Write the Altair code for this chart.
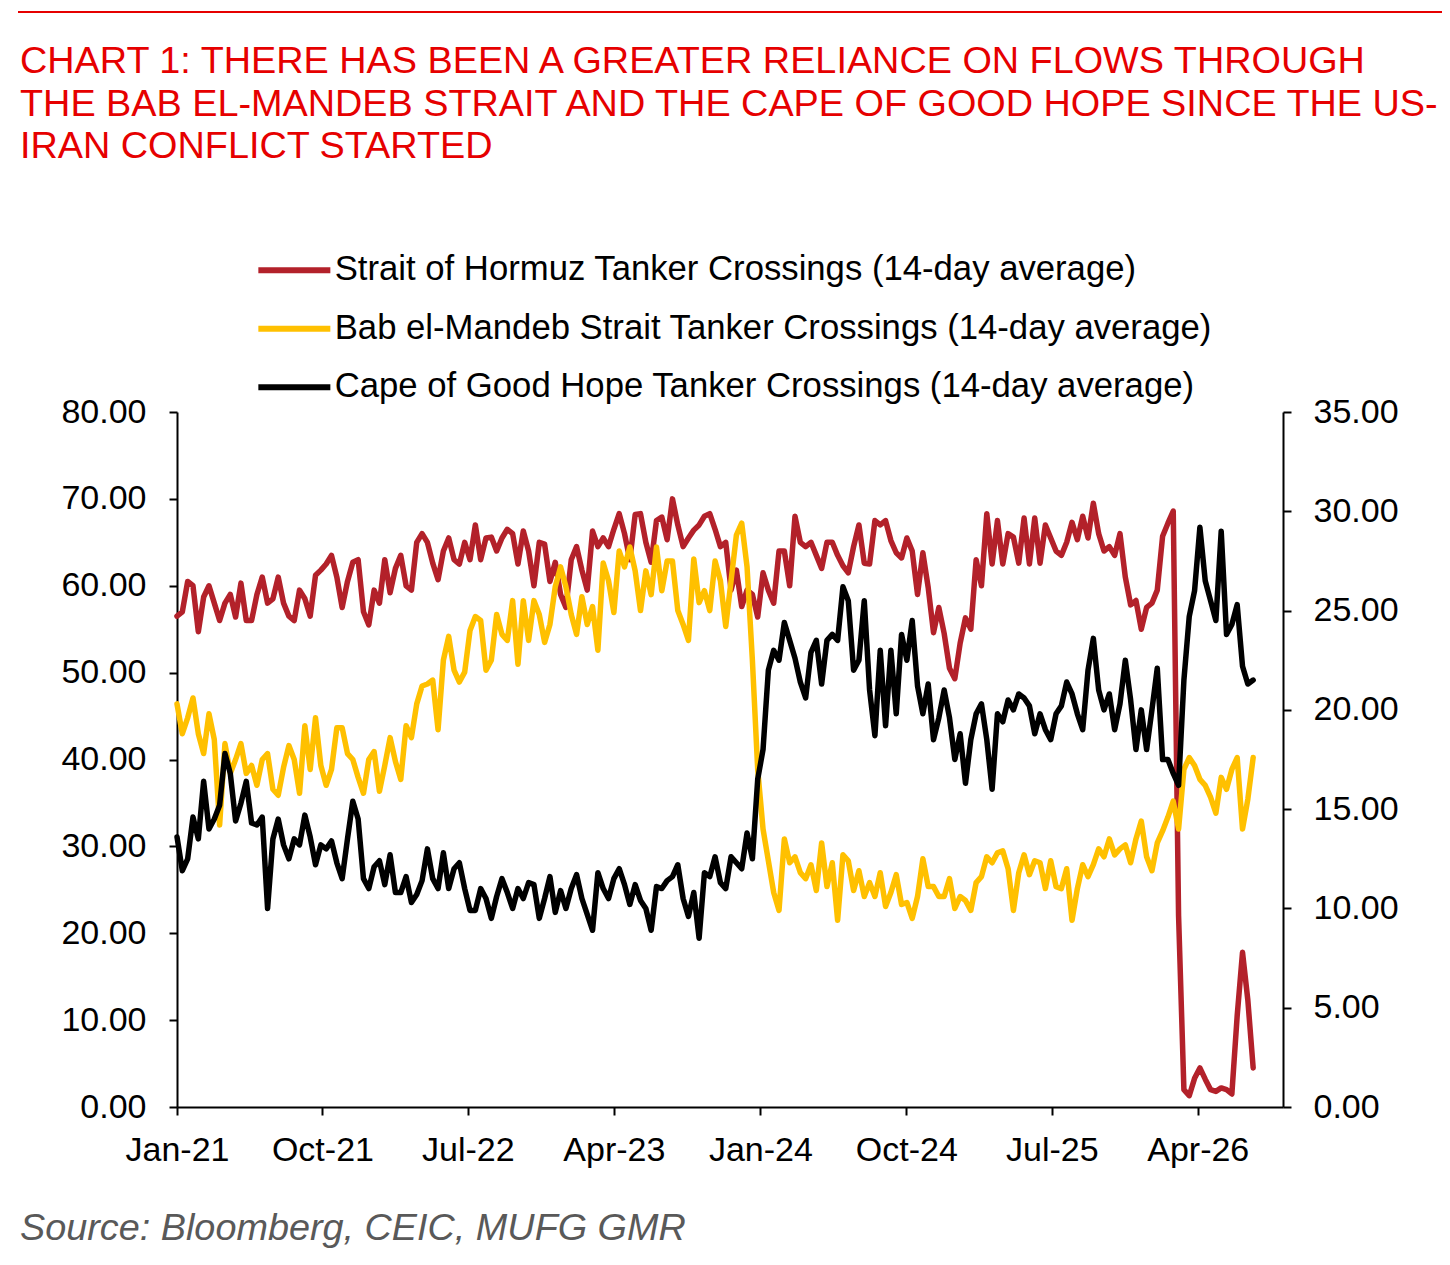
import altair as alt
import pandas as pd

TITLE_LINES = [
    "CHART 1: THERE HAS BEEN A GREATER RELIANCE ON FLOWS THROUGH",
    "THE BAB EL-MANDEB STRAIT AND THE CAPE OF GOOD HOPE SINCE THE US-",
    "IRAN CONFLICT STARTED",
]
SOURCE = "Source: Bloomberg, CEIC, MUFG GMR"

SERIES = [
    "Strait of Hormuz Tanker Crossings (14-day average)",
    "Bab el-Mandeb Strait Tanker Crossings (14-day average)",
    "Cape of Good Hope Tanker Crossings (14-day average)",
]
COLORS = ["#B3212A", "#FFC000", "#000000"]

START_DATE = "2021-01-01"
STEP = "10D"
X_START = (2021, 1, 1)
X_END = (2026, 9, 8)
TICK_MONTHS = [(2021, 1), (2021, 10), (2022, 7), (2023, 4), (2024, 1), (2024, 10), (2025, 7), (2026, 4)]
LEFT_TICKS = [0, 10, 20, 30, 40, 50, 60, 70, 80]
RIGHT_TICKS = [0, 5, 10, 15, 20, 25, 30, 35]

# Strait of Hormuz (left axis)
HORMUZ = [
    56.5, 57, 60.5, 60, 54.7, 58.7, 60, 58, 56, 58,
    59, 56.4, 60.3, 56, 56, 59, 61, 58, 58.5, 61,
    58, 56.5, 56, 59.5, 58.5, 56.5, 61.2, 61.8, 62.5, 63.5,
    61, 57.5, 60.5, 62.7, 63, 57, 55.5, 59.5, 58, 63,
    59.2, 62, 63.5, 60, 59.5, 65, 66, 65, 62.6, 60.7,
    64, 65.5, 63, 62.5, 65, 63, 67, 63, 65.5, 65.6,
    64, 65.5, 66.5, 66, 62.5, 66.3, 64, 60, 65, 64.8,
    60.5, 62.7, 59, 57.5, 63, 64.5, 61.8, 59.5, 66.3, 64.5,
    65.5, 64.5, 66.5, 68.3, 66, 63, 68.2, 68.3, 65, 62.7,
    67.5, 67.9, 65.3, 70, 67, 64.5, 65.5, 66.4, 67, 68,
    68.3, 66.5, 64.5, 65, 59.5, 61.8, 57.6, 59.5, 59, 56.4,
    61.5, 59.5, 58, 64, 64, 60, 68, 65, 64.5, 65,
    63.5, 62, 65, 65, 63.5, 62.3, 61.5, 64.5, 67, 62.6,
    62.5, 67.5, 67, 67.5, 65.2, 63.8, 63.2, 65.5, 64, 59,
    63.8, 59.8, 54.6, 57.5, 54.5, 50.5, 49.3, 53.4, 56.3, 55,
    63, 60, 68.3, 62.5, 67.5, 62.5, 66, 65.6, 62.6, 67.8,
    62.5, 67.8, 62.6, 67, 65.5, 64, 63.5, 65, 67.3, 65.3,
    68, 65.5, 69.5, 66, 64, 64.5, 63.5, 66, 61, 57.8,
    58.3, 55, 57.5, 58, 59.5, 65.7, 67.2, 68.6, 22, 2.0,
    1.3, 3.3, 4.5, 3.2, 2.0, 1.8, 2.2, 2.0, 1.5, 10.5,
    17.8, 12.3, 4.5,
]

# Bab el-Mandeb (right axis)
BAB = [
    20.3, 18.8, 19.6, 20.6, 18.8, 17.8, 19.8, 18.5, 14.2, 18.3,
    16.8, 17.5, 18.3, 16.8, 17.2, 16.2, 17.5, 17.8, 16.0, 15.7,
    17.1, 18.2, 17.5, 15.8, 19.2, 17.0, 19.6, 17.2, 16.2, 17.0,
    19.1, 19.1, 17.8, 17.5, 16.6, 15.8, 17.5, 17.9, 15.9, 17.2,
    18.6, 17.4, 16.5, 19.2, 18.6, 20.3, 21.2, 21.3, 21.5, 19.0,
    22.5, 23.7, 22.0, 21.4, 21.9, 24.0, 24.7, 24.5, 22.0, 22.5,
    24.8, 23.8, 23.5, 25.5, 22.3, 25.5, 23.5, 25.5, 24.8, 23.4,
    24.3, 26.2, 27.2, 26.2, 24.8, 23.8, 25.7, 24.3, 25.2, 23.0,
    27.4, 26.5, 24.9, 28.0, 27.2, 28.2, 27.0, 25.0, 27.0, 25.8,
    28.2, 26.0, 27.5, 27.5, 25.0, 24.3, 23.5, 27.6, 25.4, 26.0,
    25.0, 27.5, 26.5, 24.2, 26.5, 28.8, 29.4, 27.2, 22.5, 17.0,
    14.0, 12.4, 10.8, 9.9, 13.5, 12.3, 12.6, 11.8, 11.5, 12.2,
    10.9, 13.3, 11.1, 12.3, 9.4, 12.7, 12.4, 10.9, 11.9, 10.6,
    11.3, 10.6, 11.8, 10.1, 10.8, 11.7, 10.2, 10.3, 9.5, 10.6,
    12.5, 11.1, 11.1, 10.6, 10.6, 11.5, 10.0, 10.6, 10.4, 9.9,
    11.3, 11.6, 12.6, 12.3, 12.8, 12.9, 12.0, 9.9, 11.8, 12.7,
    11.7, 12.4, 12.3, 11.0, 12.4, 11.1, 11.0, 12.0, 9.4, 11.0,
    12.2, 11.6, 12.2, 13.0, 12.6, 13.5, 12.7, 13.0, 13.2, 12.3,
    13.5, 14.4, 12.6, 11.9, 13.3, 13.9, 14.6, 15.4, 14.0, 17.0,
    17.6, 17.2, 16.5, 16.2, 15.6, 14.8, 16.6, 16.0, 17.0, 17.6,
    14.0, 15.5, 17.6,
]

# Cape of Good Hope (right axis)
CAPE = [
    13.6, 11.9, 12.5, 14.6, 13.5, 16.4, 14.0, 14.5, 15.2, 17.8,
    16.8, 14.4, 15.3, 16.4, 14.3, 14.2, 14.6, 10.0, 13.5, 14.5,
    13.2, 12.5, 13.5, 13.2, 14.7, 13.6, 12.2, 13.2, 13.0, 13.4,
    12.3, 11.5, 13.5, 15.4, 14.5, 11.5, 11.0, 12.1, 12.4, 11.2,
    12.7, 10.8, 10.8, 11.6, 10.3, 10.7, 11.4, 13.0, 11.5, 11.0,
    12.8, 11.0, 12.0, 12.3, 11.0, 9.9, 9.9, 11.0, 10.5, 9.5,
    10.6, 11.5, 10.8, 10.0, 11.0, 10.5, 11.3, 11.2, 9.5, 10.5,
    11.6, 9.8, 10.9, 10.0, 11.0, 11.7, 10.5, 9.7, 8.9, 11.8,
    11.0, 10.5, 11.5, 12.0, 11.2, 10.2, 11.2, 10.4, 10.0, 8.9,
    11.1, 11.0, 11.4, 11.6, 12.2, 10.5, 9.6, 10.8, 8.5, 11.8,
    11.6, 12.6, 11.3, 11.0, 12.6, 12.3, 12.0, 13.8, 12.5, 16.5,
    18.0, 22.0, 23.0, 22.5, 24.4, 23.5, 22.6, 21.4, 20.6, 22.9,
    23.5, 21.3, 23.5, 23.8, 23.5, 26.2, 25.5, 22.0, 22.5, 25.5,
    21.0, 18.7, 23.0, 19.2, 23.0, 19.8, 23.8, 22.5, 24.5, 21.2,
    19.8, 21.3, 18.5, 19.6, 21.0, 19.6, 17.5, 18.8, 16.3, 18.5,
    19.8, 20.3, 18.5, 16.0, 19.8, 19.4, 20.5, 20.0, 20.8, 20.6,
    20.2, 18.8, 19.8, 19.0, 18.5, 19.8, 20.2, 21.4, 20.8, 19.8,
    19.0, 22.0, 23.6, 21.0, 20.0, 20.8, 19.0, 20.3, 22.5, 20.5,
    18.0, 20.0, 18.0, 20.0, 22.1, 17.5, 17.5, 16.8, 16.2, 21.5,
    24.7, 26.0, 29.2, 26.5, 25.5, 24.5, 29.0, 23.8, 24.3, 25.3,
    22.2, 21.3, 21.5,
]

dates = pd.date_range(START_DATE, periods=len(HORMUZ), freq=STEP)
left_df = pd.DataFrame({"date": dates, "value": HORMUZ, "series": SERIES[0]})
right_df = pd.concat([
    pd.DataFrame({"date": dates, "value": BAB, "series": SERIES[1]}),
    pd.DataFrame({"date": dates, "value": CAPE, "series": SERIES[2]}),
], ignore_index=True)

FONT = "Liberation Sans"
axis_common = dict(
    domainColor="black", domainWidth=2, tickColor="black", tickWidth=2, tickSize=8,
    labelFont=FONT, labelFontSize=34, labelColor="black", grid=False, title=None,
    labelFlush=False, labelOverlap=False,
)

x_enc = alt.X(
    "date:T",
    scale=alt.Scale(
        domain=[alt.DateTime(year=X_START[0], month=X_START[1], date=X_START[2]),
                alt.DateTime(year=X_END[0], month=X_END[1], date=X_END[2])],
        nice=False,
    ),
    axis=alt.Axis(
        values=[alt.DateTime(year=y, month=m, date=1) for y, m in TICK_MONTHS],
        format="%b-%y", labelPadding=18, **axis_common,
    ),
)

legend = alt.Legend(
    title=None, orient="none", legendX=81, legendY=-159, direction="vertical",
    symbolType="M-18,0H18", symbolSize=16, symbolStrokeWidth=6, symbolOffset=19,
    labelOffset=23, labelFont=FONT, labelFontSize=34.7, labelColor="black",
    labelLimit=2000, rowPadding=22.5, padding=0,
)
color_enc = alt.Color("series:N", scale=alt.Scale(domain=SERIES, range=COLORS), legend=legend)

line_kw = dict(strokeWidth=5.5, strokeJoin="round", strokeCap="round")

hormuz = alt.Chart(left_df).mark_line(**line_kw).encode(
    x=x_enc,
    y=alt.Y("value:Q", scale=alt.Scale(domain=[0, 80], nice=False),
            axis=alt.Axis(orient="left", values=LEFT_TICKS, format=".2f", labelPadding=23, **axis_common)),
    color=color_enc,
)

others = alt.Chart(right_df).mark_line(**line_kw).encode(
    x=x_enc,
    y=alt.Y("value:Q", scale=alt.Scale(domain=[0, 35], nice=False),
            axis=alt.Axis(orient="right", values=RIGHT_TICKS, format=".2f", labelPadding=22, **axis_common)),
    color=color_enc,
)

one = pd.DataFrame({"k": [0]})
top_rule = alt.Chart(one).mark_rule(color="#E60000", strokeWidth=2).encode(
    x=alt.value(-159), x2=alt.value(1265), y=alt.value(-400)
)
source = alt.Chart(one).mark_text(
    text=SOURCE, align="left", baseline="alphabetic", font=FONT, fontStyle="italic",
    fontSize=37.8, color="#595959",
).encode(x=alt.value(-157), y=alt.value(828))

chart = alt.layer(hormuz, others, top_rule, source).resolve_scale(
    y="independent"
).properties(
    width=1106,
    height=695,
    autosize=alt.AutoSizeParams(type="none"),
    padding={"left": 169, "top": 404, "right": 159, "bottom": 146},
    background="white",
    title=alt.TitleParams(
        text=TITLE_LINES, anchor="start", frame="group", orient="top", offset=0,
        dx=-157, dy=155, baseline="top", font=FONT, fontSize=37.8, fontWeight="normal",
        color="#E60000", lineHeight=42.5,
    ),
).configure_view(strokeWidth=0)

chart.save("out.html", embed_options={"renderer": "svg", "actions": False})
